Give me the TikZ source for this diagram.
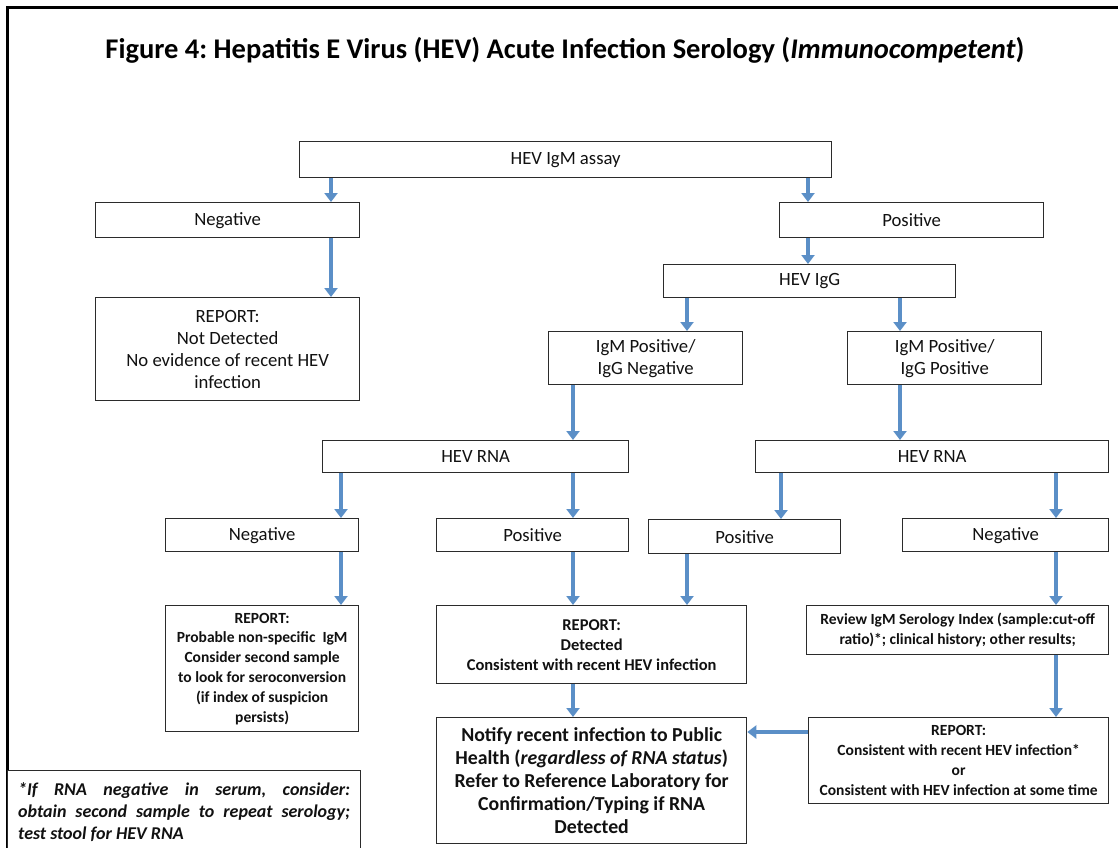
\documentclass[tikz,border=0pt]{standalone}
\usepackage{fontspec}
\setmainfont{Carlito}
\usetikzlibrary{arrows.meta}
\definecolor{arrowblue}{HTML}{5B8FC7}
\definecolor{boxline}{HTML}{2B2B2B}
\definecolor{inktext}{HTML}{111111}
\frenchspacing
\begin{document}
\begin{tikzpicture}[x=1pt,y=-1pt,
  box/.style={draw=boxline, line width=1.3pt, fill=white, rectangle, inner sep=2pt,
    align=center, anchor=north west, text=inktext, font=\fontsize{18.7}{22}\selectfont},
  smallbold/.style={font=\bfseries\fontsize{15.5}{19.8}\selectfont},
  notebold/.style={font=\bfseries\fontsize{19.8}{23}\selectfont},
  arr/.style={draw=arrowblue, line width=3.5pt, -{Triangle[width=13pt,length=9pt]}},
]
\useasboundingbox (0,0) rectangle (1118,847);

% outer frame (open towards right and bottom)
\draw[line width=3pt, line cap=rect] (7,860) -- (7,7) -- (1130,7);

% title
\node[text=black, font=\bfseries\fontsize{28.5}{32}\selectfont] (title) at (565,50)
  {Figure 4: Hepatitis E Virus (HEV) Acute Infection Serology (\textit{Immunocompetent})};

% boxes
\node[box, minimum width=532, minimum height=36] (igm) at (299,141) {HEV IgM assay};
\node[box, minimum width=264, minimum height=35] (neg) at (95,202) {Negative};
\node[box, minimum width=264, minimum height=35] (pos) at (779,202) {Positive};
\node[box, minimum width=292, minimum height=33] (igg) at (663,264) {HEV IgG};
\node[box, minimum width=264, minimum height=103] (rep1) at (95,297)
  {REPORT:\\Not Detected\\No evidence of recent HEV\\infection};
\node[box, minimum width=194, minimum height=53] (pn) at (548,331) {IgM Positive/\\IgG Negative};
\node[box, minimum width=194, minimum height=53] (pp) at (847,331) {IgM Positive/\\IgG Positive};
\node[box, minimum width=306, minimum height=32] (rnaA) at (322,440) {HEV RNA};
\node[box, minimum width=353, minimum height=32] (rnaB) at (755,440) {HEV RNA};
\node[box, minimum width=193, minimum height=33] (negA) at (165,518) {Negative};
\node[box, minimum width=192, minimum height=33] (posA) at (436,518) {Positive};
\node[box, minimum width=192, minimum height=34] (posB) at (648,519) {Positive};
\node[box, minimum width=206, minimum height=33] (negB) at (902,518) {Negative};
\node[box, smallbold, minimum width=193, minimum height=126] (rep2) at (165,605)
  {REPORT:\\Probable non-specific\ \ IgM\\Consider second sample\\to look for seroconversion\\(if index of suspicion\\persists)};
\node[box, smallbold, font=\bfseries\fontsize{16.5}{20}\selectfont, minimum width=310, minimum height=78] (rep3) at (436,605)
  {REPORT:\\Detected\\Consistent with recent HEV infection};
\node[box, smallbold, minimum width=302, minimum height=49] (rev) at (806,605)
  {Review IgM Serology Index (sample:cut-off\\ratio)*; clinical history; other results;};
\node[box, notebold, minimum width=310, minimum height=126] (notify) at (436,717)
  {Notify recent infection to Public\\Health (\textit{regardless of RNA status})\\Refer to Reference Laboratory for\\Confirmation/Typing if RNA\\Detected};
\node[box, smallbold, minimum width=300, minimum height=86] (rep4) at (808,717)
  {REPORT:\\Consistent with recent HEV infection*\\or\\Consistent with HEV infection at some time};
\node[box, minimum width=353, minimum height=82, inner sep=0pt, text width=332, align=justify,
  font=\bfseries\itshape\fontsize{18}{22}\selectfont] (foot) at (7,770)
  {*If RNA negative in serum, consider:\linebreak obtain second sample to repeat serology;\linebreak test stool for HEV RNA};

% arrow columns
\coordinate (a331) at (331,0);
\coordinate (a808) at (808,0);
\coordinate (a687) at (687,0);
\coordinate (a900) at (900,0);
\coordinate (a573) at (573,0);
\coordinate (a341) at (341,0);
\coordinate (a781) at (781,0);
\coordinate (a1056) at (1056,0);
\coordinate (y732) at (0,732);

% connectors
\draw[arr] (igm.south -| a331) -- (neg.north -| a331);
\draw[arr] (igm.south -| a808) -- (pos.north -| a808);
\draw[arr] (neg.south -| a331) -- (rep1.north -| a331);
\draw[arr] (pos.south -| a808) -- (igg.north -| a808);
\draw[arr] (igg.south -| a687) -- (pn.north -| a687);
\draw[arr] (igg.south -| a900) -- (pp.north -| a900);
\draw[arr] (pn.south -| a573) -- (rnaA.north -| a573);
\draw[arr] (pp.south -| a900) -- (rnaB.north -| a900);
\draw[arr] (rnaA.south -| a341) -- (negA.north -| a341);
\draw[arr] (rnaA.south -| a573) -- (posA.north -| a573);
\draw[arr] (rnaB.south -| a781) -- (posB.north -| a781);
\draw[arr] (rnaB.south -| a1056) -- (negB.north -| a1056);
\draw[arr] (negA.south -| a341) -- (rep2.north -| a341);
\draw[arr] (posA.south -| a573) -- (rep3.north -| a573);
\draw[arr] (posB.south -| a687) -- (rep3.north -| a687);
\draw[arr] (negB.south -| a1056) -- (rev.north -| a1056);
\draw[arr] (rep3.south -| a573) -- (notify.north -| a573);
\draw[arr] (rev.south -| a1056) -- (rep4.north -| a1056);
\draw[arr] (rep4.west |- y732) -- (notify.east |- y732);
\end{tikzpicture}
\end{document}
